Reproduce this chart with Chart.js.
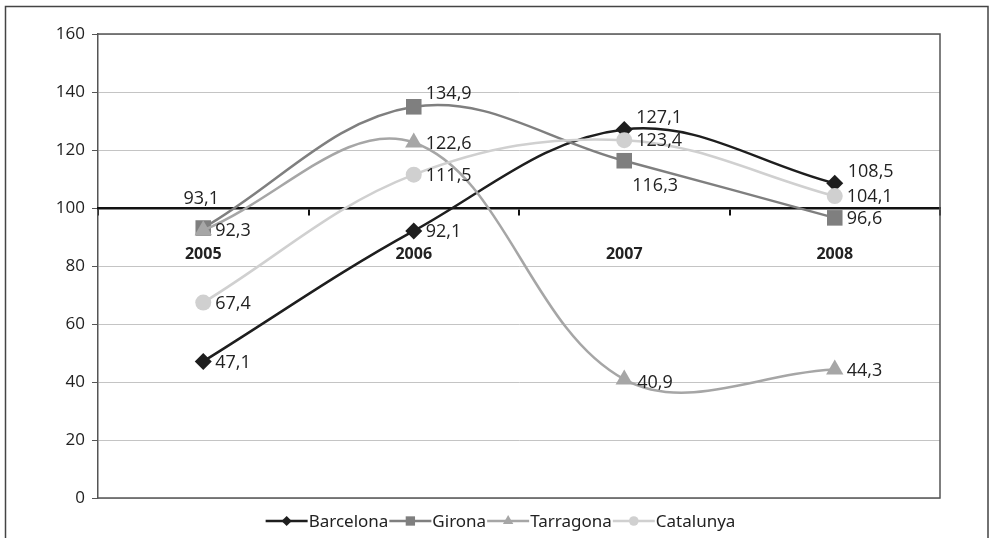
<!DOCTYPE html>
<html>
<head>
<meta charset="utf-8">
<script src="https://cdn.jsdelivr.net/npm/chart.js@4.4.1/dist/chart.umd.min.js"></script>
<style>
  html, body { margin: 0; padding: 0; background: #fff; }
  #wrap { width: 989px; height: 538px; position: relative; }
</style>
</head>
<body>
<div id="wrap"><canvas id="chart" width="989" height="538"></canvas></div>
<script>
const years = ['2005', '2006', '2007', '2008'];
const barcelona = [47.1, 92.1, 127.1, 108.5];
const girona = [93.1, 134.9, 116.3, 96.6];
const tarragona = [92.3, 122.6, 40.9, 44.3];
const catalunya = [67.4, 111.5, 123.4, 104.1];
const yTicks = [0, 20, 40, 60, 80, 100, 120, 140, 160];

const labelFont = '18px "Open Sans", sans-serif';

// where each data label sits relative to its marker (dx, dy, align)
const labelPos = {
  Barcelona: { 2: [12, -12, 'left'], 3: [13, -11, 'left'] },
  Girona: { 0: [-2, -29, 'center'], 1: [12, -13, 'left'], 2: [8, 25, 'left'] },
  Tarragona: { 2: [13, 3, 'left'] }
};

const fmt = (v) => v.toFixed(1).replace('.', ',');

const dataLabels = {
  id: 'dataLabels',
  afterDatasetsDraw(chart) {
    const ctx = chart.ctx;
    ctx.save();
    ctx.font = labelFont;
    ctx.fillStyle = '#222';
    ctx.textBaseline = 'middle';
    chart.data.datasets.forEach((ds, i) => {
      const meta = chart.getDatasetMeta(i);
      meta.data.forEach((pt, j) => {
        const custom = labelPos[ds.label] && labelPos[ds.label][j];
        const [dx, dy, align] = custom || [12, 1, 'left'];
        ctx.textAlign = align;
        ctx.fillText(fmt(ds.data[j]), pt.x + dx, pt.y + dy);
      });
    });
    ctx.restore();
  }
};

const frame = {
  id: 'frame',
  beforeDraw(chart) {
    const ctx = chart.ctx;
    ctx.save();
    ctx.fillStyle = '#fff';
    ctx.fillRect(0, 0, chart.width, chart.height);
    ctx.strokeStyle = '#444';
    ctx.lineWidth = 1.5;
    ctx.beginPath();
    ctx.moveTo(5.5, chart.height);
    ctx.lineTo(5.5, 6.5);
    ctx.lineTo(988, 6.5);
    ctx.lineTo(988, chart.height);
    ctx.stroke();
    ctx.restore();
  },
  afterDraw(chart) {
    const { left, right, top, bottom } = chart.chartArea;
    const ctx = chart.ctx;
    ctx.save();
    ctx.strokeStyle = '#555';
    ctx.lineWidth = 1.5;
    ctx.beginPath();
    ctx.moveTo(left, top);
    ctx.lineTo(right, top);
    ctx.lineTo(right, bottom);
    ctx.lineTo(left, bottom);
    ctx.stroke();

    // legend: line - marker - line then name
    ctx.font = '17px "Noto Sans", sans-serif';
    ctx.textBaseline = 'middle';
    ctx.textAlign = 'left';
    const y = 521;
    const sample = 42;
    const widths = chart.data.datasets.map(ds => sample + 2 + ctx.measureText(ds.label).width);
    let x = 501 - widths.reduce((a, b) => a + b, 0) / 2;
    chart.data.datasets.forEach((ds, i) => {
      ctx.strokeStyle = ds.borderColor;
      ctx.lineWidth = ds.borderWidth;
      ctx.beginPath();
      ctx.moveTo(x, y);
      ctx.lineTo(x + sample, y);
      ctx.stroke();
      ctx.fillStyle = ds.pointBackgroundColor;
      Chart.helpers.drawPoint(ctx, {
        pointStyle: ds.pointStyle, rotation: 0, borderWidth: 0, radius: ds.pointRadius * 0.6
      }, x + sample / 2, y);
      ctx.fillStyle = '#222';
      ctx.fillText(ds.label, x + sample + 1, y + 1);
      x += widths[i];
    });
    ctx.restore();
  }
};

function series(label, data, color, style, radius, order) {
  return {
    label, data, order,
    borderColor: color,
    borderWidth: 2.5,
    pointStyle: style,
    pointRadius: radius,
    pointHoverRadius: radius,
    pointBackgroundColor: color,
    pointBorderColor: color,
    pointBorderWidth: 0,
    tension: 0.37,
    fill: false
  };
}

new Chart(document.getElementById('chart'), {
  type: 'line',
  data: {
    labels: years,
    datasets: [
      series('Barcelona', barcelona, '#1e1e1e', 'rectRot', 8.5, 4),
      series('Girona', girona, '#7f7f7f', 'rect', 11, 3),
      series('Tarragona', tarragona, '#a6a6a6', 'triangle', 10, 2),
      series('Catalunya', catalunya, '#d0d0d0', 'circle', 8, 1)
    ]
  },
  options: {
    responsive: false,
    animation: false,
    layout: { padding: { left: 0, top: 34, right: 49, bottom: 40 } },
    plugins: {
      legend: { display: false },
      tooltip: { enabled: false }
    },
    scales: {
      y: {
        min: 0,
        max: 160,
        afterFit: (scale) => { scale.width = 98; },
        afterBuildTicks: (scale) => { scale.ticks = yTicks.map(v => ({ value: v })); },
        ticks: {
          color: '#222',
          font: { size: 17, family: '"Open Sans", sans-serif' },
          padding: 7
        },
        grid: { color: '#c4c4c4', lineWidth: 1, tickLength: 6, tickColor: '#555' },
        border: { color: '#555', width: 1.5 }
      },
      x: {
        position: { y: 100 },
        offset: true,
        ticks: {
          color: '#222',
          font: { size: 16, weight: 'bold', family: '"Open Sans", sans-serif' },
          padding: 31
        },
        grid: { offset: true, drawOnChartArea: false, tickLength: 6, tickColor: '#111', lineWidth: 2 },
        border: { color: '#111', width: 2.5 }
      }
    }
  },
  plugins: [frame, dataLabels]
});
</script>
</body>
</html>
